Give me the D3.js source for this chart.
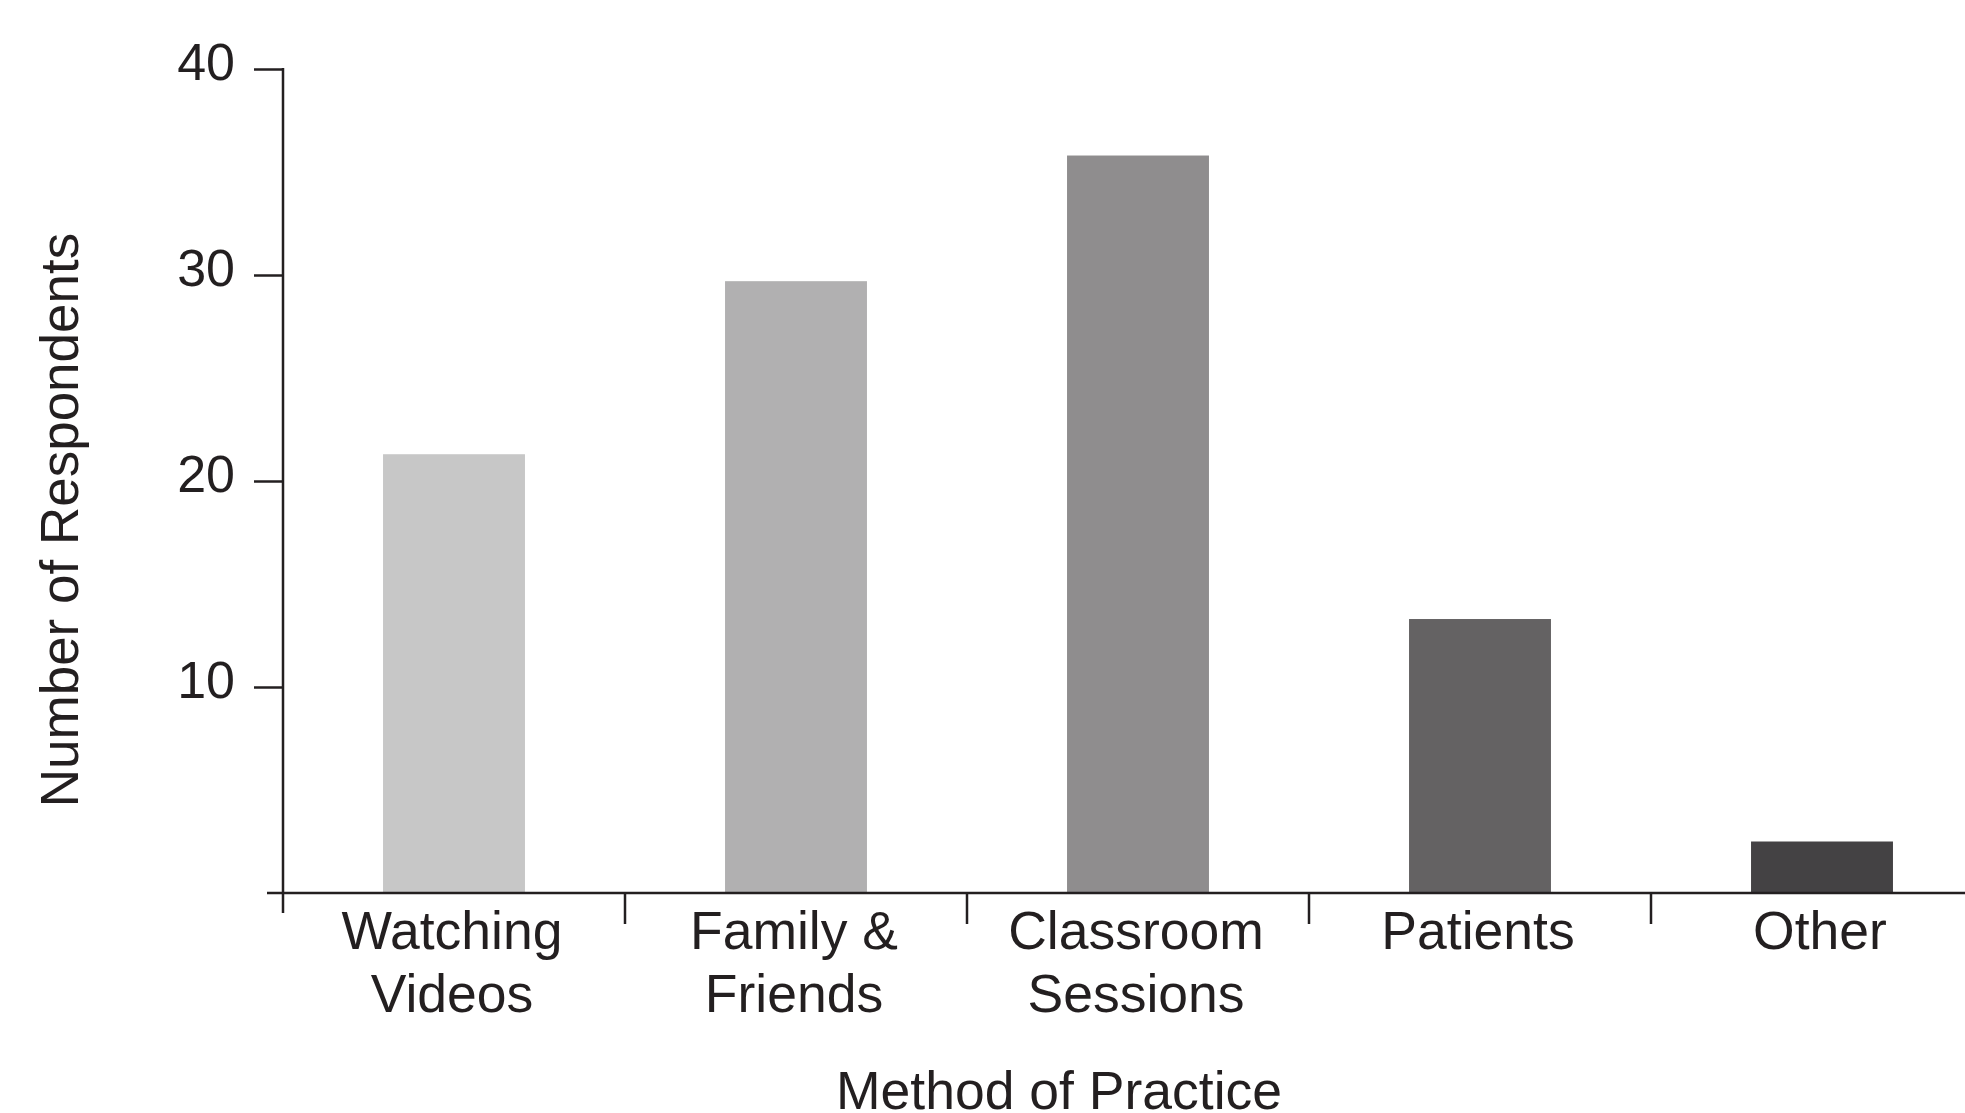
<!DOCTYPE html>
<html>
<head>
<meta charset="utf-8">
<script src="https://cdn.jsdelivr.net/npm/d3@7"></script>
<style>
body { margin:0; background:#fff; }
svg text { font-family:"Liberation Sans", Arial, Helvetica, sans-serif; fill:#231f20; }
</style>
</head>
<body>
<script>
// chart values
var categories = ["Watching\nVideos", "Family &\nFriends", "Classroom\nSessions", "Patients", "Other"];
var respondents = [21.3, 29.7, 35.8, 13.3, 2.5];
var barColors = ["#c7c7c7", "#b1b0b1", "#8f8d8e", "#646263", "#444244"];
var yTicks = [10, 20, 30, 40];

var screen = {width:1965, height:1113};
var margins = {left:283, right:0, top:69, bottom:220};

var initGraph = function()
{
    var svg = d3.select("body")
        .append("svg")
        .attr("width", screen.width)
        .attr("height", screen.height);

    var xScale = d3.scaleBand()
        .domain(categories)
        .range([margins.left, margins.left + 342*categories.length])
        .paddingInner(0.585)
        .paddingOuter(0.2925);

    var yScale = d3.scaleLinear()
        .domain([0, 40])
        .range([893, margins.top]);

    drawBars(svg, xScale, yScale);
    drawAxes(svg, xScale, yScale);
    drawLabels(svg, yScale);
}

var drawBars = function(svg, xScale, yScale)
{
    svg.append("g")
        .selectAll("rect")
        .data(categories)
        .enter()
        .append("rect")
        .attr("x", function(d){ return xScale(d); })
        .attr("width", xScale.bandwidth())
        .attr("y", function(d, i){ return yScale(respondents[i]); })
        .attr("height", function(d, i){ return yScale(0) - yScale(respondents[i]); })
        .attr("fill", function(d, i){ return barColors[i]; });
}

var drawAxes = function(svg, xScale, yScale)
{
    var axisColor = "#231f20";
    var y0 = yScale(0);

    // y axis
    var yAxis = d3.axisLeft(yScale)
        .tickValues(yTicks)
        .tickSize(29)
        .tickPadding(19);

    var yG = svg.append("g")
        .attr("transform", "translate(" + margins.left + ",0)")
        .call(yAxis);
    yG.select(".domain").remove();
    yG.selectAll("line").attr("stroke", axisColor).attr("stroke-width", 2.5);
    yG.selectAll("text")
        .attr("font-size", 52)
        .attr("dy", "0.2em")
        .style("fill", axisColor);

    svg.append("line")
        .attr("x1", margins.left).attr("x2", margins.left)
        .attr("y1", yScale(40) - 1).attr("y2", y0 + 20)
        .attr("stroke", axisColor).attr("stroke-width", 2.5);

    // x axis line
    svg.append("line")
        .attr("x1", margins.left - 16).attr("x2", screen.width)
        .attr("y1", y0).attr("y2", y0)
        .attr("stroke", axisColor).attr("stroke-width", 2.5);

    // separators between categories
    svg.append("g")
        .selectAll("line")
        .data(categories)
        .enter()
        .append("line")
        .attr("x1", function(d){ return xScale(d) + xScale.bandwidth()/2 + xScale.step()/2; })
        .attr("x2", function(d){ return xScale(d) + xScale.bandwidth()/2 + xScale.step()/2; })
        .attr("y1", y0)
        .attr("y2", y0 + 31)
        .attr("stroke", axisColor).attr("stroke-width", 2.5);

    // category labels
    var xAxis = d3.axisBottom(xScale).tickSize(0).tickPadding(0);
    var xG = svg.append("g")
        .attr("transform", "translate(0," + y0 + ")")
        .call(xAxis);
    xG.select(".domain").remove();
    xG.selectAll("text").each(function(d){
        var t = d3.select(this);
        t.text(null)
            .attr("font-size", 53.5)
            .attr("y", 0)
            .attr("dy", null);
        d.split("\n").forEach(function(line, i){
            t.append("tspan")
                .attr("x", -2)
                .attr("y", 56 + i*63)
                .text(line);
        });
    });
}

var drawLabels = function(svg, yScale)
{
    svg.append("text")
        .attr("transform", "translate(78,520) rotate(-90)")
        .attr("text-anchor", "middle")
        .attr("font-size", 53)
        .text("Number of Respondents");

    svg.append("text")
        .attr("x", 1059)
        .attr("y", 1109)
        .attr("text-anchor", "middle")
        .attr("font-size", 53.5)
        .text("Method of Practice");
}

initGraph();
</script>
</body>
</html>
